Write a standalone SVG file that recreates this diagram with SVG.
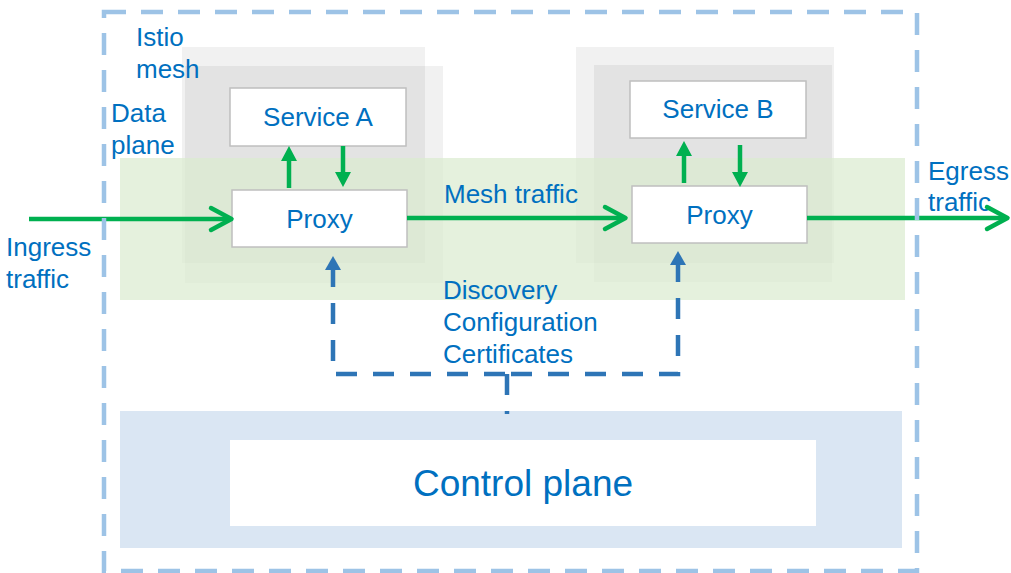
<svg xmlns="http://www.w3.org/2000/svg" width="1011" height="573" viewBox="0 0 1011 573">
  <style>
    text { font-family: "Liberation Sans", Arial, sans-serif; fill: #0070C0; font-size: 26px; }
    .mid { text-anchor: middle; }
    .box { fill: #FFFFFF; stroke: #BFBFBF; stroke-width: 1.5; }
    .pod { fill: #000000; fill-opacity: 0.055; }
    .flow { stroke: #00B050; stroke-width: 4.5; fill: none; }
    .ctl { stroke: #2E75B6; stroke-width: 4.5; fill: none; stroke-dasharray: 21 16; }
  </style>
  <defs>
    <marker id="chevron" markerUnits="userSpaceOnUse" viewBox="-25 -15 30 30" markerWidth="30" markerHeight="30" refX="0" refY="0" orient="auto" overflow="visible">
      <path d="M-19,-11 L1.5,0 L-19,11" fill="none" stroke="#00B050" stroke-width="4.5" stroke-linecap="round" stroke-linejoin="round"/>
    </marker>
    <marker id="tri-green" markerUnits="userSpaceOnUse" viewBox="-10 -10 25 20" markerWidth="25" markerHeight="20" refX="0" refY="0" orient="auto" overflow="visible">
      <path d="M10,0 L-5,-8 L-5,8 Z" fill="#00B050"/>
    </marker>
    <marker id="tri-blue" markerUnits="userSpaceOnUse" viewBox="-10 -10 25 20" markerWidth="25" markerHeight="20" refX="0" refY="0" orient="auto" overflow="visible">
      <path d="M7,0 L-7,-8 L-7,8 Z" fill="#2E75B6"/>
    </marker>
  </defs>

  <!-- workload pods -->
  <g id="pod-a">
    <rect class="pod" x="182" y="47" width="243" height="216"/>
    <rect class="pod" x="185" y="66" width="258" height="217"/>
  </g>
  <g id="pod-b">
    <rect class="pod" x="576" y="47" width="258" height="216"/>
    <rect class="pod" x="594" y="65" width="238" height="217"/>
  </g>

  <!-- data plane band, translucent over the pods -->
  <rect id="data-plane" x="120" y="158" width="785" height="142" fill="#DAEBCE" fill-opacity="0.7"/>

  <!-- control plane -->
  <g id="control-plane">
    <rect x="120" y="411" width="782" height="137" fill="#DAE6F3"/>
    <rect x="230" y="440" width="586" height="86" fill="#FFFFFF"/>
    <text class="mid" x="523" y="496" style="font-size:37px">Control plane</text>
  </g>

  <!-- labels -->
  <g id="labels">
    <text x="136" y="46">Istio</text>
    <text x="136" y="78">mesh</text>
    <text x="111" y="122">Data</text>
    <text x="111" y="154">plane</text>
    <text x="6" y="256">Ingress</text>
    <text x="6" y="288">traffic</text>
    <text x="928" y="180">Egress</text>
    <text x="928" y="211">traffic</text>
    <text x="444" y="203">Mesh traffic</text>
    <text x="443" y="299">Discovery</text>
    <text x="443" y="331">Configuration</text>
    <text x="443" y="363">Certificates</text>
  </g>

  <!-- services and sidecars -->
  <g id="service-a">
    <rect class="box" x="230" y="88" width="176" height="58"/>
    <text class="mid" x="318" y="126">Service A</text>
  </g>
  <g id="proxy-a">
    <rect class="box" x="232" y="190" width="175" height="57"/>
    <text class="mid" x="319.5" y="228">Proxy</text>
  </g>
  <g id="service-b">
    <rect class="box" x="630" y="81" width="176" height="57"/>
    <text class="mid" x="718" y="118">Service B</text>
  </g>
  <g id="proxy-b">
    <rect class="box" x="632" y="186" width="175" height="57"/>
    <text class="mid" x="719.5" y="224">Proxy</text>
  </g>

  <!-- connectors -->
  <g id="connectors">
    <line class="flow" x1="29" y1="219" x2="230" y2="219" marker-end="url(#chevron)"/>
    <line class="flow" x1="407" y1="218" x2="624" y2="218" marker-end="url(#chevron)"/>
    <line class="flow" x1="807" y1="218" x2="1006" y2="218" marker-end="url(#chevron)"/>

    <line class="flow" x1="289" y1="188" x2="289" y2="156" marker-end="url(#tri-green)"/>
    <line class="flow" x1="343" y1="146" x2="343" y2="177" marker-end="url(#tri-green)"/>
    <line class="flow" x1="684" y1="183" x2="684" y2="151" marker-end="url(#tri-green)"/>
    <line class="flow" x1="740" y1="145" x2="740" y2="177" marker-end="url(#tri-green)"/>

    <line x1="333" y1="268" x2="333" y2="263" stroke="#2E75B6" stroke-width="4.5" marker-end="url(#tri-blue)"/>
    <line x1="678" y1="263" x2="678" y2="258" stroke="#2E75B6" stroke-width="4.5" marker-end="url(#tri-blue)"/>
    <path class="ctl" d="M333,266 V374 H507"/>
    <path class="ctl" d="M678,261 V374 H507"/>
    <path class="ctl" d="M507,374 V414"/>
  </g>

  <!-- mesh boundary -->
  <rect id="istio-mesh" x="104" y="12" width="813" height="559" fill="none" stroke="#9DC3E6" stroke-width="4.5" stroke-dasharray="22 15"/>
</svg>
